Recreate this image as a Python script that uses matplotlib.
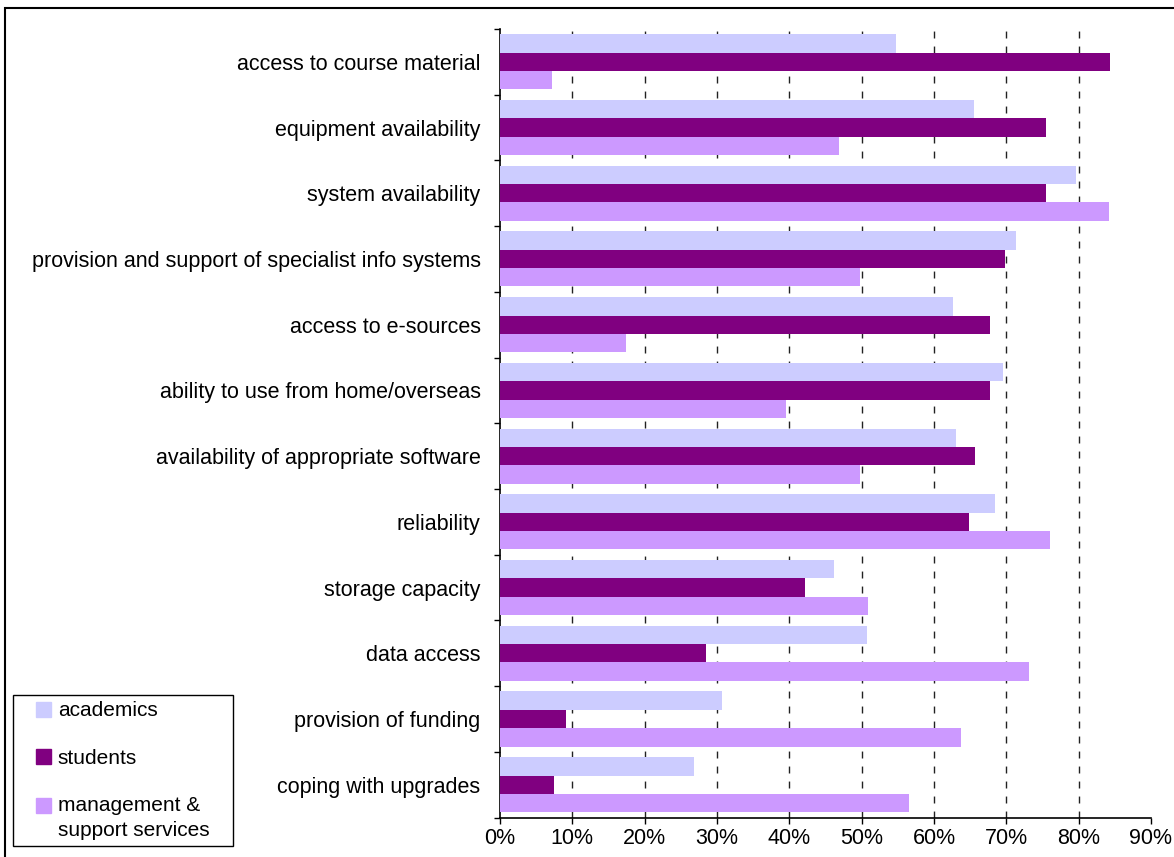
import numpy as np
import matplotlib
matplotlib.use("Agg")
import matplotlib.pyplot as plt
from matplotlib.lines import Line2D
from matplotlib.patches import Rectangle
from matplotlib.legend_handler import HandlerLine2D

plt.rcParams["font.family"] = ["Liberation Sans", "DejaVu Sans"]

categories = [
    "access to course material",
    "equipment availability",
    "system availability",
    "provision and support of specialist info systems",
    "access to e-sources",
    "ability to use from home/overseas",
    "availability of appropriate software",
    "reliability",
    "storage capacity",
    "data access",
    "provision of funding",
    "coping with upgrades",
]
academics = [54.8, 65.5, 79.7, 71.4, 62.6, 69.5, 63.1, 68.4, 46.2, 50.7, 30.7, 26.8]
students = [84.3, 75.5, 75.5, 69.8, 67.8, 67.8, 65.6, 64.8, 42.1, 28.5, 9.1, 7.5]
management = [7.2, 46.8, 84.2, 49.8, 17.4, 39.6, 49.8, 76.1, 50.9, 73.1, 63.7, 56.6]
x_ticks = [0, 10, 20, 30, 40, 50, 60, 70, 80, 90]

series_names = ["academics", "students", "management &\nsupport services"]
series_colors = ["#CCCCFF", "#800080", "#CC99FF"]


class RaisedHandler(HandlerLine2D):
    # keeps the marker level with the first line of a two-line label
    def __init__(self, shift=0, **kw):
        super().__init__(**kw)
        self.shift = shift

    def create_artists(self, legend, orig_handle, xdescent, ydescent,
                       width, height, fontsize, trans):
        return super().create_artists(legend, orig_handle, xdescent,
                                      ydescent - 2 * self.shift, width, height,
                                      fontsize, trans)


fig = plt.figure(figsize=(11.74, 8.57), dpi=100)
ax = fig.add_axes([0.4259, 0.046, 0.5545, 0.9202])

y = np.arange(len(categories))
h = 0.279
for k, (vals, col) in enumerate(zip([academics, students, management], series_colors)):
    ax.barh(y + (k - 1) * h, vals, height=h, color=col, zorder=3)

# dashed vertical gridlines (inner ticks only)
for t in x_ticks[1:-1]:
    ax.axvline(t, color="#222222", lw=1.0, linestyle=(0, (5, 5.8)), zorder=1)

ax.set_xlim(0, 90)
ax.set_ylim(len(categories) - 0.5, -0.5)
ax.set_xticks(x_ticks)
ax.set_xticklabels([f"{t}%" for t in x_ticks])
ax.set_yticks(np.arange(-0.5, len(categories), 1))
ax.set_yticklabels([])
ax.set_yticks(y, minor=True)
ax.set_yticklabels(categories, minor=True)
ax.tick_params(axis="y", which="major", direction="out", length=4, width=1, color="black")
ax.tick_params(axis="y", which="minor", length=0, pad=14, labelsize=15.5)
ax.tick_params(axis="x", direction="out", length=4.5, width=1, color="black",
               labelsize=15.5, pad=3)

for s in ["top", "right"]:
    ax.spines[s].set_visible(False)
for s in ["left", "bottom"]:
    ax.spines[s].set_linewidth(1.2)
    ax.spines[s].set_color("black")

handles = [
    Line2D([], [], marker="s", linestyle="none", markersize=10.8,
           markerfacecolor=c, markeredgecolor=c)
    for c in series_colors
]
leg = fig.legend(
    handles, series_names,
    loc="lower left",
    bbox_to_anchor=(13 / 1174, 11 / 857, 220 / 1174, 151 / 857),
    bbox_transform=fig.transFigure,
    mode="expand",
    borderaxespad=0,
    fontsize=15,
    frameon=True,
    fancybox=False,
    edgecolor="black",
    framealpha=1,
    borderpad=0.3,
    handlelength=2.3,
    handletextpad=-0.45,
    labelspacing=1.35,
    handler_map={handles[2]: RaisedHandler(shift=9.4)},
)
leg.get_frame().set_linewidth(1.0)
for txt in leg.get_texts():
    txt.set_linespacing(1.4)

# outer chart frame
fig.add_artist(Rectangle((5 / 1174, -0.1), 2, 0.9907 + 0.1, transform=fig.transFigure,
                         fill=False, edgecolor="black", lw=1.5))

fig.savefig("out.png", dpi=100)
